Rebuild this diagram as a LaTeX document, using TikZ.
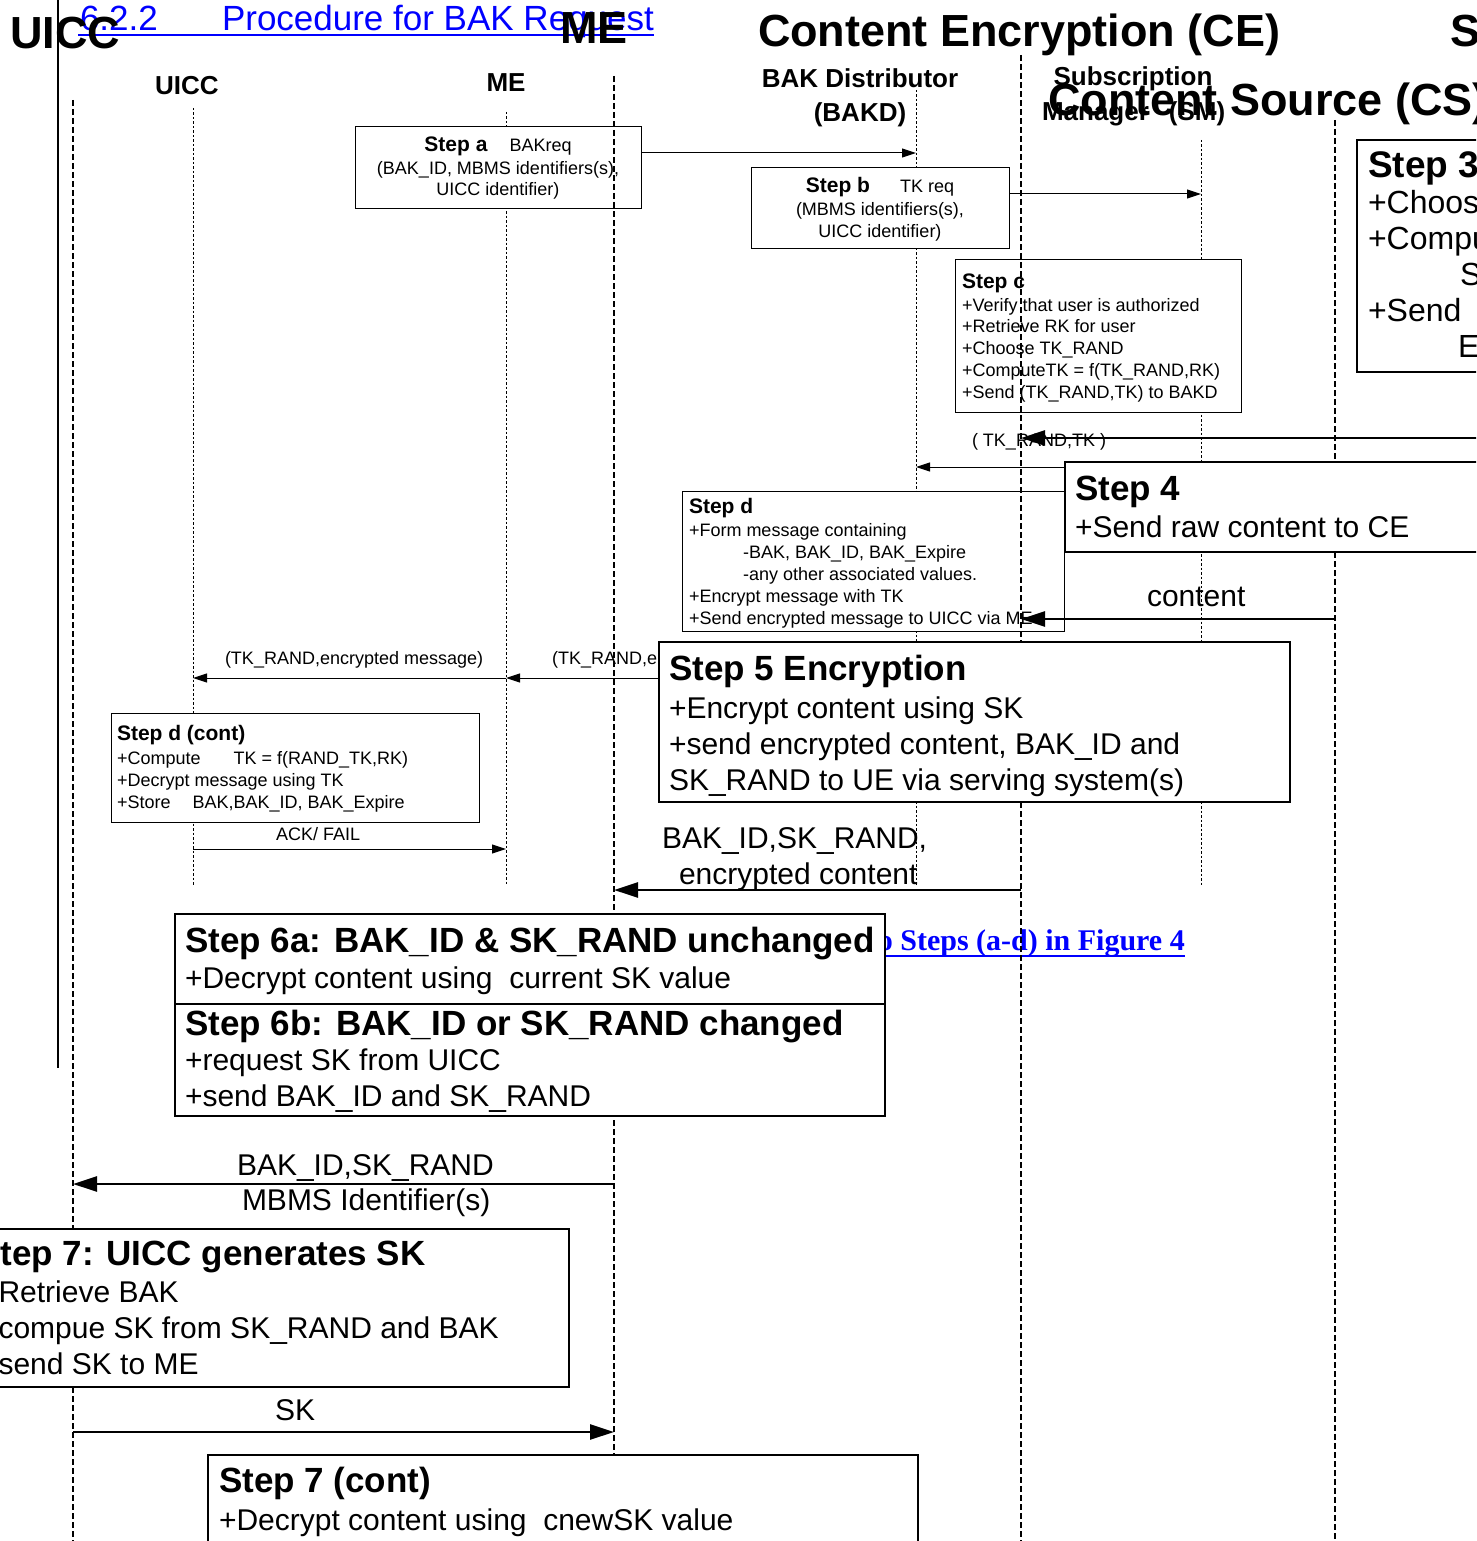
\documentclass[tikz,border=0pt]{standalone}
\usepackage{fontspec}
\setmainfont{Liberation Sans}
\newfontfamily\linkserif{Liberation Serif}
\usetikzlibrary{arrows.meta}

\definecolor{linkblue}{RGB}{0,0,255}

% font sizes (1pt = 1 unit of the picture)
\newcommand\fBigHdr{\fontsize{45}{50}\selectfont\bfseries}
\newcommand\fBigHead{\fontsize{35}{40}\selectfont\bfseries}
\newcommand\fBigTxt{\fontsize{30}{36}\selectfont}
\newcommand\fSmHdr{\fontsize{26}{30}\selectfont\bfseries}
\newcommand\fSmHead{\fontsize{21}{24}\selectfont\bfseries}
\newcommand\fSmTxt{\fontsize{18}{21}\selectfont}

\tikzset{
  lbl/.style={inner sep=0pt, outer sep=0pt, anchor=base west},
  clbl/.style={inner sep=0pt, outer sep=0pt, anchor=base},
  smallbox/.style={draw, line width=0.9pt, fill=white, inner sep=0pt, outer sep=0pt, anchor=north west},
  bigbox/.style={draw, line width=2pt, fill=white, inner sep=0pt, outer sep=0pt, anchor=north west},
  thinlife/.style={line width=0.8pt, dash pattern=on 2.5pt off 2pt},
  thicklife/.style={line width=2pt, dash pattern=on 6pt off 3pt},
  sarr/.style={line width=1pt, -{Triangle[length=14pt,width=9pt]}},
  barr/.style={line width=2.5pt, -{Triangle[length=24pt,width=15pt]}},
}

\begin{document}
\begin{tikzpicture}[x=1pt,y=-1pt]
\useasboundingbox (0,0) rectangle (1476,1541);
\clip (0,0) rectangle (1476,1541);

% ---------- section title ----------
\node[lbl,font=\fontsize{35}{40}\selectfont,text=linkblue] (tNum) at (80,31) {6.2.2};
\node[lbl,font=\fontsize{35}{40}\selectfont,text=linkblue] (tTxt) at (222,31) {Procedure for BAK Request};
\draw[linkblue,line width=2.2pt] ([xshift=-2pt]tNum.base west |- 0,35) -- (tTxt.base east |- 0,35);

% left rule
\coordinate (ruleTop) at (58,0);
\draw[line width=2pt] (ruleTop) -- (ruleTop |- 0,1068);

% ---------- BAK request flow ----------
\coordinate (llUiccS) at (193,108);
\coordinate (llMeS) at (506,112);
\coordinate (llBakd) at (916,90);
\coordinate (llSm) at (1201,140);
\foreach \c in {llUiccS,llMeS,llBakd,llSm}
  \draw[thinlife] (\c) -- (\c |- 0,885);

\node[clbl,font=\fSmHdr] (sUicc) at (187,95) {UICC};
\node[clbl,font=\fSmHdr] (sMe) at (506,92) {ME};
\node[clbl,font=\fSmHdr] (sBakd1) at (860,88) {BAK Distributor};
\node[clbl,font=\fSmHdr] (sBakd2) at (860,122) {(BAKD)};
\node[clbl,font=\fSmHdr] (sSm1) at (1133,86) {Subscription};
\node[lbl,font=\fSmHdr] (sSm2) at (1042,121) {Manager\hspace{20pt}(SM)};

% step a
\node[smallbox,minimum width=286pt,minimum height=82pt] (stepa) at (355,126) {};
\node[clbl,font=\fSmTxt] (stepa1) at (498,152) {{\fSmHead Step a}\hspace{22pt}BAKreq};
\node[clbl,font=\fSmTxt] (stepa2) at (498,175) {(BAK\_ID, MBMS identifiers(s),};
\node[clbl,font=\fSmTxt] (stepa3) at (498,196) {UICC identifier)};

% step b
\node[smallbox,minimum width=258pt,minimum height=81pt] (stepb) at (751,167) {};
\node[clbl,font=\fSmTxt] (stepb1) at (880,193) {{\fSmHead Step b}\hspace{30pt}TK req};
\node[clbl,font=\fSmTxt] (stepb2) at (880,215) {(MBMS identifiers(s),};
\node[clbl,font=\fSmTxt] (stepb3) at (880,237) {UICC identifier)};

% step c
\node[smallbox,minimum width=286pt,minimum height=153pt] (stepc) at (955,259) {};
\node[lbl,font=\fSmHead] (stepch) at (962,288) {Step c};
\foreach \ln [count=\k] in {+Verify that user is authorized, +Retrieve RK for user, +Choose TK\_RAND, {+ComputeTK = f(TK\_RAND,RK)}, {+Send (TK\_RAND,TK) to BAKD}}
  \node[lbl,font=\fSmTxt] (stepc\k) at (962,{311+(\k-1)*21.75}) {\ln};

% step d
\node[smallbox,minimum width=382pt,minimum height=140pt] (stepd) at (682,491) {};
\node[lbl,font=\fSmHead] (stepdh) at (689,513) {Step d};
\foreach \ln [count=\k] in {+Form message containing, {\hspace*{54pt}-BAK, BAK\_ID, BAK\_Expire}, {\hspace*{54pt}-any other associated values.}, +Encrypt message with TK, +Send encrypted message to UICC via ME}
  \node[lbl,font=\fSmTxt] (stepd\k) at (689,{536+(\k-1)*22}) {\ln};

% step d (cont)
\node[smallbox,minimum width=368pt,minimum height=109pt] (stepdc) at (111,713) {};
\node[lbl,font=\fSmHead] (stepdch) at (117,740) {Step d (cont)};
\foreach \ln [count=\k] in {{+Compute\hspace{33pt}TK = f(RAND\_TK,RK)}, +Decrypt message using TK, {+Store\hspace{22pt}BAK,BAK\_ID, BAK\_Expire}}
  \node[lbl,font=\fSmTxt] (stepdc\k) at (117,{764+(\k-1)*22}) {\ln};

% messages
\node[lbl,font=\fSmTxt] (lTk) at (972,446) {( TK\_RAND,TK )};
\node[lbl,font=\fSmTxt] (lMsg1) at (225,664) {(TK\_RAND,encrypted message)};
\node[lbl,font=\fSmTxt] (lMsg2) at (552,664) {(TK\_RAND,encrypted message)};
\node[lbl,font=\fSmTxt] (lAck) at (276,840) {ACK/ FAIL};

\draw[sarr] (stepa.east |- 0,153) -- (llBakd |- 0,153);
\draw[sarr] (stepb.east |- 0,194) -- (llSm |- 0,194);
\draw[sarr] (llSm |- 0,467) -- (llBakd |- 0,467);
\draw[sarr] (llBakd |- 0,678) -- (llMeS |- 0,678);
\draw[sarr] (llMeS |- 0,678) -- (llUiccS |- 0,678);
\draw[sarr] (llUiccS |- 0,849) -- (llMeS |- 0,849);

% ---------- content encryption flow ----------
\node[anchor=base east,inner sep=0pt,font=\linkserif\bfseries\fontsize{30}{34}\selectfont,text=linkblue] (lnk) at (1185,950) {to Steps (a-d) in Figure 4};
\draw[linkblue,line width=2pt] (lnk.base west |- 0,956) -- (lnk.base east |- 0,956);

\coordinate (llUiccB) at (73,100);
\coordinate (llMeB) at (614,76);
\coordinate (llCe) at (1021,55);
\coordinate (llCs) at (1335,120);
\coordinate (smOff) at (1520,438);
\foreach \c in {llUiccB,llMeB,llCe,llCs}
  \draw[thicklife] (\c) -- (\c |- 0,1560);

\draw[barr] (smOff) -- (llCe |- smOff);
\draw[barr] (llCs |- 0,619) -- (llCe |- 0,619);
\draw[barr] (llCe |- 0,890) -- (llMeB |- 0,890);
\draw[barr] (llMeB |- 0,1184) -- (llUiccB |- 0,1184);
\draw[barr] (llUiccB |- 0,1432) -- (llMeB |- 0,1432);

\node[lbl,font=\fBigTxt] (lContent) at (1147,606) {content};
\node[lbl,font=\fBigTxt] (lEnc1) at (662,848) {BAK\_ID,SK\_RAND,};
\node[lbl,font=\fBigTxt] (lEnc2) at (679,884) {encrypted content};
\node[lbl,font=\fBigTxt] (lReq1) at (237,1175) {BAK\_ID,SK\_RAND};
\node[lbl,font=\fBigTxt] (lReq2) at (242,1210) {MBMS Identifier(s)};
\node[lbl,font=\fBigTxt] (lSk) at (275,1420) {SK};

% step 3
\node[bigbox,minimum width=170pt,minimum height=232pt] (step3) at (1357,140) {};
\node[lbl,font=\fontsize{37}{42}\selectfont\bfseries] (step3h) at (1368,178) {Step 3};
\foreach \ln [count=\k] in {+Choose SK\_RAND, +Compute, {\hspace*{92pt}SK}, +Send, {\hspace*{90pt}E}}
  \node[lbl,font=\fontsize{32}{36}\selectfont] (step3\k) at (1368,{214+(\k-1)*35.8}) {\ln};

% step 4
\node[bigbox,minimum width=460pt,minimum height=90pt] (step4) at (1065,462) {};
\node[lbl,font=\fBigHead] (step4h) at (1075,500) {Step 4};
\node[lbl,font=\fBigTxt] (step41) at (1075,537) {+Send raw content to CE};

% step 5
\node[bigbox,minimum width=631pt,minimum height=160pt] (step5) at (659,642) {};
\node[lbl,font=\fBigHead] (step5h) at (669,680) {Step 5 Encryption};
\foreach \ln [count=\k] in {+Encrypt content using SK, {+send encrypted content, BAK\_ID and}, SK\_RAND to UE via serving system(s)}
  \node[lbl,font=\fBigTxt] (step5\k) at (669,{718+(\k-1)*36}) {\ln};

% step 6a / 6b
\node[bigbox,minimum width=710pt,minimum height=202pt] (step6) at (175,914) {};
\draw[line width=2pt] (step6.west |- 0,1004) -- (step6.east |- 0,1004);
\node[lbl,font=\fBigHead] (step6ah) at (185,952) {Step 6a: BAK\_ID \& SK\_RAND unchanged};
\node[lbl,font=\fBigTxt] (step6a1) at (185,988) {+Decrypt content using~~current SK value};
\node[lbl,font=\fBigHead] (step6bh) at (185,1035) {Step 6b: BAK\_ID or SK\_RAND changed};
\node[lbl,font=\fBigTxt] (step6b1) at (185,1070) {+request SK from UICC};
\node[lbl,font=\fBigTxt] (step6b2) at (185,1106) {+send BAK\_ID and SK\_RAND};

% step 7
\node[bigbox,minimum width=589pt,minimum height=158pt] (step7) at (-20,1229) {};
\node[lbl,font=\fBigHead] (step7h) at (-23,1265) {Step 7: UICC generates SK};
\foreach \ln [count=\k] in {+Retrieve BAK, +compue SK from SK\_RAND and BAK, +send SK to ME}
  \node[lbl,font=\fBigTxt] (step7\k) at (-19,{1302+(\k-1)*36}) {\ln};

% step 7 (cont)
\node[bigbox,minimum width=710pt,minimum height=120pt] (step7c) at (208,1455) {};
\node[lbl,font=\fBigHead] (step7ch) at (219,1492) {Step 7 (cont)};
\node[lbl,font=\fBigTxt] (step7c1) at (219,1530) {+Decrypt content using~~cnewSK value};

% entity headers
\node[lbl,font=\fBigHdr] (hUicc) at (10,49) {UICC};
\node[lbl,font=\fBigHdr] (hMe) at (560,44) {ME};
\node[lbl,font=\fBigHdr] (hCe) at (758,47) {Content Encryption (CE)};
\node[lbl,font=\fBigHdr] (hSm) at (1450,47) {SM};
\node[lbl,font=\fBigHdr] (hCs) at (1048,116) {Content Source (CS)};
\end{tikzpicture}
\end{document}
